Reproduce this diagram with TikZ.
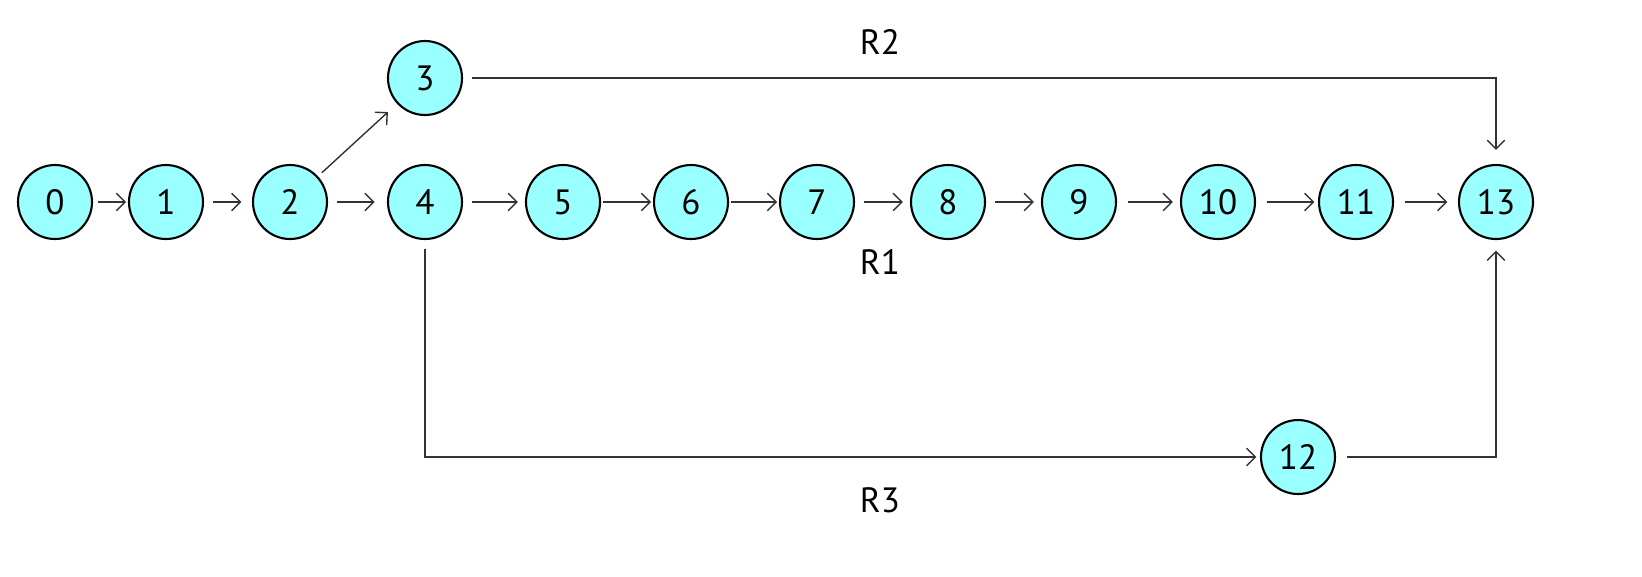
\documentclass[tikz,border=0pt]{standalone}
\usepackage{fontspec}
\setmainfont{PT Sans}
\usetikzlibrary{arrows.meta}
\definecolor{stfill}{HTML}{99FFFF}
\definecolor{linegray}{HTML}{333333}
\begin{document}
\begin{tikzpicture}[x=.02cm,y=-.02cm,line width=.8pt,
  every node/.style={font=\fontsize{20}{23}\selectfont},
  st/.style={draw,shape=circle,fill=stfill,line width=1.2pt,minimum size=1.48cm,inner sep=0pt},
  go/.style={-{Straight Barb[length=5pt,width=10pt]},draw=linegray,shorten <=5pt,shorten >=4pt}]
      \useasboundingbox (0,0) rectangle (1642,576);
      \path (55,202)   node[st] (0)  {0};
      \path (166,202)  node[st] (1)  {1};
      \path (290,202)  node[st] (2)  {2};
      \path (425,78)   node[st] (3)  {3};
      \path (425,202)  node[st] (4)  {4};
      \path (563,202)  node[st] (5)  {5};
      \path (691,202)  node[st] (6)  {6};
      \path (817,202)  node[st] (7)  {7};
      \path (948,202)  node[st] (8)  {8};
      \path (1079,202) node[st] (9)  {9};
      \path (1218,202) node[st] (10) {10};
      \path (1356,202) node[st] (11) {11};
      \path (1298,457) node[st] (12) {12};
      \path (1496,202) node[st] (13) {13};

      \path (880,42)  node (r2) {R2};
      \path (880,262) node (r1) {R1};
      \path (880,500) node (r3) {R3};

      \draw[go,shorten <=3pt,shorten >=1pt] (0) -- (1); %01
      \draw[go,shorten >=6pt] (1) -- (2); %12
      \draw[go,shorten >=7pt] (2) -- (4); %24
      \draw[go,shorten <=3pt,shorten >=7pt] (2) -- (3); %23
      \draw[go] (4) -- (5); %45
      \draw[go,shorten <=1pt,shorten >=1pt] (5) -- (6); %56
      \draw[go,shorten <=1pt,shorten >=1pt] (6) -- (7); %67
      \draw[go] (7) -- (8); %78
      \draw[go] (8) -- (9); %89
      \draw[go,shorten <=6pt] (9) -- (10); %910
      \draw[go,shorten <=6pt,shorten >=2pt] (10) -- (11); %1011
      \draw[go,shorten <=6pt,shorten >=6pt] (11) -- (13); %1113
      \draw[go,shorten >=8pt] (3) -| (13); %313
      \draw[go,shorten <=5pt,shorten >=2pt] (4) |- (12); %412
      \draw[go,shorten <=6pt,shorten >=6pt] (12) -| (13); %1213

    \end{tikzpicture}
\end{document}
